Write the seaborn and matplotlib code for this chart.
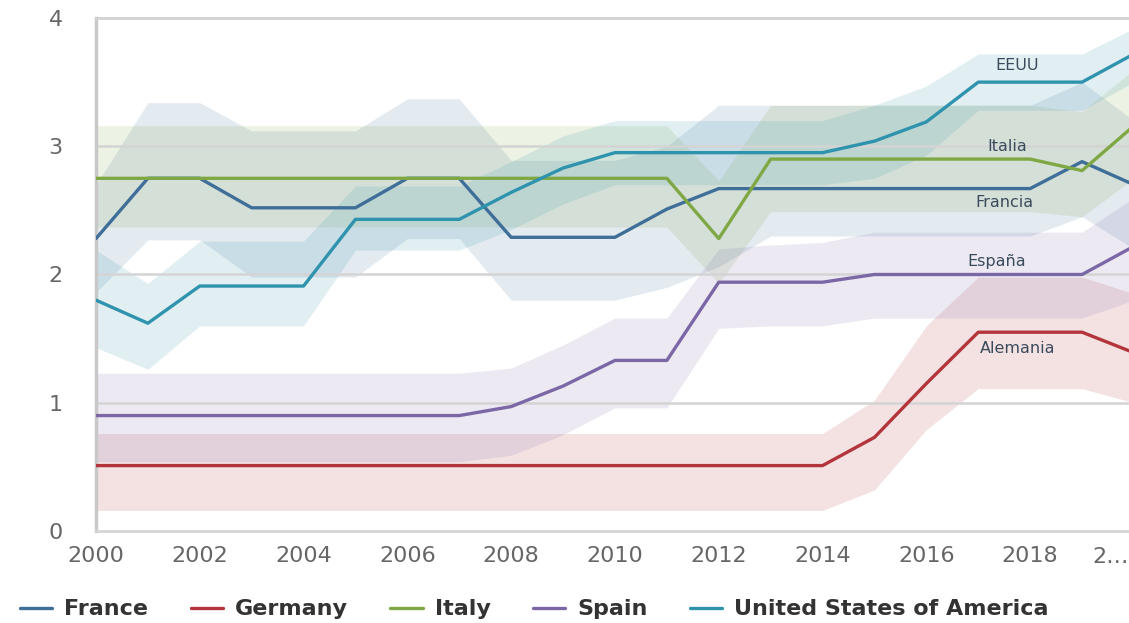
import numpy as np
import pandas as pd
import matplotlib
matplotlib.use("Agg")
import matplotlib.pyplot as plt
import seaborn as sns

years = list(range(2000, 2021))
countries = ["France", "Germany", "Italy", "Spain", "United States of America"]
short_labels = {"France": "Francia", "Germany": "Alemania", "Italy": "Italia",
                "Spain": "España", "United States of America": "EEUU"}

france = [2.28, 2.75, 2.75, 2.52, 2.52, 2.52, 2.75, 2.75, 2.29, 2.29, 2.29,
          2.51, 2.67, 2.67, 2.67, 2.67, 2.67, 2.67, 2.67, 2.88, 2.70]
germany = [0.51, 0.51, 0.51, 0.51, 0.51, 0.51, 0.51, 0.51, 0.51, 0.51, 0.51,
           0.51, 0.51, 0.51, 0.51, 0.73, 1.15, 1.55, 1.55, 1.55, 1.39]
italy = [2.75, 2.75, 2.75, 2.75, 2.75, 2.75, 2.75, 2.75, 2.75, 2.75, 2.75,
         2.75, 2.28, 2.90, 2.90, 2.90, 2.90, 2.90, 2.90, 2.81, 3.16]
spain = [0.90, 0.90, 0.90, 0.90, 0.90, 0.90, 0.90, 0.90, 0.97, 1.13, 1.33,
         1.33, 1.94, 1.94, 1.94, 2.00, 2.00, 2.00, 2.00, 2.00, 2.22]
usa = [1.80, 1.62, 1.91, 1.91, 1.91, 2.43, 2.43, 2.43, 2.64, 2.83, 2.95,
       2.95, 2.95, 2.95, 2.95, 3.04, 3.19, 3.50, 3.50, 3.50, 3.72]

# uncertainty bands (lower / upper)
france_lo = [1.86, 2.27, 2.27, 1.98, 1.98, 1.98, 2.28, 2.28, 1.80, 1.80, 1.80,
             1.90, 2.06, 2.30, 2.30, 2.30, 2.30, 2.30, 2.30, 2.45, 2.20]
france_hi = [2.70, 3.34, 3.34, 3.12, 3.12, 3.12, 3.37, 3.37, 2.89, 2.89, 2.89,
             3.00, 3.32, 3.32, 3.32, 3.32, 3.32, 3.32, 3.32, 3.50, 3.20]
germany_lo = [0.16, 0.16, 0.16, 0.16, 0.16, 0.16, 0.16, 0.16, 0.16, 0.16, 0.16,
              0.16, 0.16, 0.16, 0.16, 0.32, 0.79, 1.11, 1.11, 1.11, 1.00]
germany_hi = [0.76, 0.76, 0.76, 0.76, 0.76, 0.76, 0.76, 0.76, 0.76, 0.76, 0.76,
              0.76, 0.76, 0.76, 0.76, 1.02, 1.60, 1.98, 1.98, 1.98, 1.85]
italy_lo = [2.37, 2.37, 2.37, 2.37, 2.37, 2.37, 2.37, 2.37, 2.37, 2.37, 2.37,
            2.37, 1.93, 2.49, 2.49, 2.49, 2.49, 2.49, 2.49, 2.45, 2.75]
italy_hi = [3.16, 3.16, 3.16, 3.16, 3.16, 3.16, 3.16, 3.16, 3.16, 3.16, 3.16,
            3.16, 2.73, 3.32, 3.32, 3.32, 3.32, 3.32, 3.32, 3.27, 3.60]
spain_lo = [0.54, 0.54, 0.54, 0.54, 0.54, 0.54, 0.54, 0.54, 0.59, 0.75, 0.96,
            0.96, 1.58, 1.60, 1.60, 1.66, 1.66, 1.66, 1.66, 1.66, 1.80]
spain_hi = [1.23, 1.23, 1.23, 1.23, 1.23, 1.23, 1.23, 1.23, 1.27, 1.45, 1.66,
            1.66, 2.20, 2.23, 2.25, 2.33, 2.33, 2.33, 2.33, 2.33, 2.60]
usa_lo = [1.43, 1.26, 1.60, 1.60, 1.60, 2.19, 2.19, 2.19, 2.35, 2.55, 2.70,
          2.70, 2.70, 2.70, 2.70, 2.75, 2.93, 3.28, 3.28, 3.28, 3.50]
usa_hi = [2.19, 1.93, 2.26, 2.26, 2.26, 2.69, 2.69, 2.69, 2.88, 3.08, 3.20,
          3.20, 3.20, 3.20, 3.20, 3.32, 3.47, 3.72, 3.72, 3.72, 3.92]

values = {"France": france, "Germany": germany, "Italy": italy,
          "Spain": spain, "United States of America": usa}
bands = {"France": (france_lo, france_hi), "Germany": (germany_lo, germany_hi),
         "Italy": (italy_lo, italy_hi), "Spain": (spain_lo, spain_hi),
         "United States of America": (usa_lo, usa_hi)}
label_pos = {"United States of America": (2017.75, 3.63), "Italy": (2017.55, 3.0),
             "France": (2017.5, 2.56), "Spain": (2017.35, 2.10),
             "Germany": (2017.75, 1.42)}

colors = {"France": "#3f6e98", "Germany": "#b3353b", "Italy": "#7fa845",
          "Spain": "#7b67a6", "United States of America": "#2f93ae"}

df = pd.DataFrame([(c, y, v) for c in countries for y, v in zip(years, values[c])],
                  columns=["country", "year", "value"])

sns.set_style("white")
fig = plt.figure(figsize=(11.29, 6.23), dpi=100)
ax = fig.add_axes([0.085, 0.1477, 0.9194, 0.8234])

for c in countries:
    lo, hi = bands[c]
    ax.fill_between(years, lo, hi, color=colors[c], alpha=0.14, lw=0, zorder=1)

for yv in [1, 2, 3]:
    ax.axhline(yv, color="#d4d4d4", lw=1.8, zorder=2)

sns.lineplot(data=df, x="year", y="value", hue="country", hue_order=countries,
             palette=colors, linewidth=2.4, ax=ax, zorder=3)

for c in countries:
    x, y = label_pos[c]
    ax.text(x, y, short_labels[c], fontsize=11.5, color="#3b4b5c",
            ha="center", va="center", zorder=4)

ax.set_xlim(2000, 2020)
ax.set_ylim(0, 4)
ax.set_xticks(range(2000, 2019, 2))
ax.set_yticks([0, 1, 2, 3, 4])
ax.set_xlabel("")
ax.set_ylabel("")
ax.tick_params(axis="x", length=8, width=1.2, color="#d5d5d5", labelsize=16,
               labelcolor="#666666", pad=3)
ax.tick_params(axis="y", length=0, labelsize=16, labelcolor="#666666", pad=24)
ax.text(2019.55, -0.2, "2…", fontsize=16, color="#666666", ha="center",
        va="center")

ax.spines["right"].set_visible(False)
ax.spines["left"].set_color("#c8c8c8")
ax.spines["left"].set_linewidth(2.5)
ax.spines["top"].set_color("#d2d2d2")
ax.spines["top"].set_linewidth(2)
ax.spines["bottom"].set_color("#d5d5d5")
ax.spines["bottom"].set_linewidth(2)

handles, labels = ax.get_legend_handles_labels()
ax.get_legend().remove()
leg = fig.legend(handles, labels, loc="center left", bbox_to_anchor=(0.0, 0.022),
                 ncol=5, frameon=False, handlelength=1.45, handletextpad=0.55,
                 columnspacing=1.9, prop={"weight": "bold", "size": 16})
for t in leg.get_texts():
    t.set_color("#333333")

fig.savefig("out.png", dpi=100)
